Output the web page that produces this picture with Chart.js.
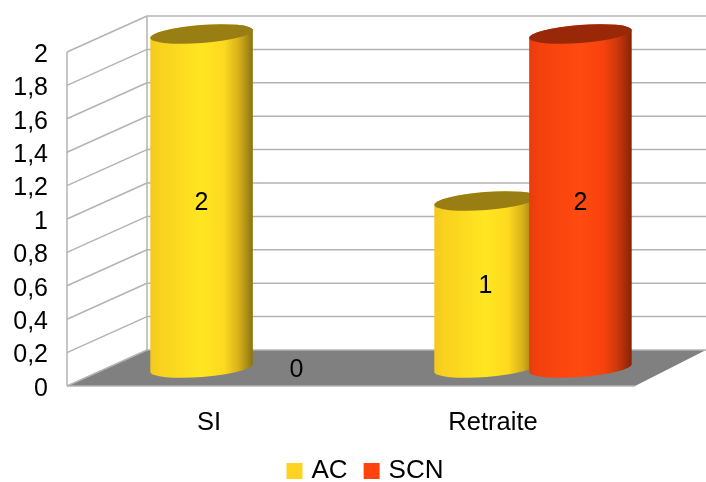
<!DOCTYPE html>
<html>
<head>
<meta charset="utf-8">
<script src="https://cdn.jsdelivr.net/npm/chart.js@4"></script>
<style>
  html, body { margin: 0; padding: 0; background: #fff; }
  #wrap { width: 706px; height: 482px; }
</style>
</head>
<body>
<div id="wrap"><canvas id="chart"></canvas></div>
<script>
const categories = ['SI', 'Retraite'];
const seriesNames = ['AC', 'SCN'];
const acValues = [2, 1];
const scnValues = [0, 2];
const yTicksMax = 2;
const yTickStep = 0.2;

const baseColors = ['#ffd320', '#ff420e'];
const lidColors = ['#997f13', '#992808'];
const shadeStops = [
  ['#f2ca1e', '#f9d11f', '#ffe620', '#fdd91f', '#d8b11a', '#8a7310'],
  ['#e83c0c', '#f4410d', '#ff4a10', '#f8420e', '#cc380b', '#852307']
];
const shadeOffsets = [0, 0.1, 0.5, 0.72, 0.86, 1];

// Depth of the 3D box: the back wall sits this far from the front plane.
const DEPTH_X = 80;
const DEPTH_Y = -36;
const GRID_COLOR = '#b3b3b3';
const FLOOR_COLOR = '#808080';
const LABEL_FONT = '25px "Liberation Sans"';

function line(ctx, x1, y1, x2, y2) {
  ctx.beginPath();
  ctx.moveTo(x1, y1);
  ctx.lineTo(x2, y2);
  ctx.stroke();
}

function drawWalls(chart) {
  const { ctx, chartArea: area, scales: { y } } = chart;
  const backRight = chart.width;
  const y0 = y.getPixelForValue(0);
  ctx.save();
  ctx.fillStyle = FLOOR_COLOR;
  ctx.beginPath();
  ctx.moveTo(area.left, y0);
  ctx.lineTo(area.right, y0);
  ctx.lineTo(backRight, y0 + DEPTH_Y);
  ctx.lineTo(area.left + DEPTH_X, y0 + DEPTH_Y);
  ctx.closePath();
  ctx.fill();
  ctx.strokeStyle = GRID_COLOR;
  ctx.lineWidth = 1.5;
  line(ctx, area.left, y0, area.right, y0);
  line(ctx, area.left, y0, area.left, y.getPixelForValue(yTicksMax));
  line(ctx, area.left + DEPTH_X, y0 + DEPTH_Y,
            area.left + DEPTH_X, y.getPixelForValue(yTicksMax) + DEPTH_Y);
  y.ticks.forEach(t => {
    const py = y.getPixelForValue(t.value);
    line(ctx, area.left, py, area.left + DEPTH_X, py + DEPTH_Y);
    line(ctx, area.left + DEPTH_X, py + DEPTH_Y, backRight, py + DEPTH_Y);
  });
  ctx.restore();
}

function drawCylinder(ctx, bar, series) {
  const rot = -0.0775;
  const cx = bar.x + DEPTH_X / 2;
  const top = bar.y + DEPTH_Y / 2;
  const bottom = bar.base + DEPTH_Y / 2;
  const a = bar.width / 2;
  const b = 9;
  const grad = ctx.createLinearGradient(cx - a, 0, cx + a, 0);
  shadeStops[series].forEach((c, k) => grad.addColorStop(shadeOffsets[k], c));
  const ex = a * Math.cos(rot);
  const ey = a * Math.sin(rot);
  ctx.save();
  ctx.fillStyle = grad;
  ctx.beginPath();
  ctx.moveTo(cx - ex, top - ey);
  ctx.lineTo(cx - ex, bottom - ey);
  ctx.ellipse(cx, bottom, a, b, rot, Math.PI, 0, true);
  ctx.lineTo(cx + ex, top + ey);
  ctx.ellipse(cx, top, a, b, rot, 0, Math.PI, true);
  ctx.closePath();
  ctx.fill();
  ctx.fillStyle = lidColors[series];
  ctx.beginPath();
  ctx.ellipse(cx, top, a, b, rot, 0, Math.PI * 2);
  ctx.fill();
  ctx.restore();
}

const box3d = {
  id: 'box3d',
  // Walls and floor first, then the cylinders in series order so SCN overlaps AC.
  beforeDatasetsDraw(chart) {
    drawWalls(chart);
    chart.data.datasets.forEach((ds, i) => {
      chart.getDatasetMeta(i).data.forEach((bar, n) => {
        if (ds.data[n] !== 0) drawCylinder(chart.ctx, bar, i);
      });
    });
  },
  // The flat bars are replaced by the cylinders above.
  beforeDatasetDraw() {
    return false;
  },
  // Value labels sit on top of every cylinder, halfway up.
  afterDatasetsDraw(chart) {
    const { ctx } = chart;
    ctx.save();
    ctx.font = LABEL_FONT;
    ctx.fillStyle = '#000';
    ctx.textAlign = 'center';
    ctx.textBaseline = 'middle';
    chart.data.datasets.forEach((ds, i) => {
      chart.getDatasetMeta(i).data.forEach((bar, n) => {
        const midY = (bar.y + bar.base) / 2 + DEPTH_Y / 2;
        ctx.fillText(String(ds.data[n]), bar.x + DEPTH_X / 2, midY + 2);
      });
    });
    ctx.restore();
  }
};

new Chart(document.getElementById('chart'), {
  type: 'bar',
  data: {
    labels: categories,
    datasets: [
      { label: seriesNames[0], data: acValues, backgroundColor: baseColors[0] },
      { label: seriesNames[1], data: scnValues, backgroundColor: baseColors[1] }
    ]
  },
  plugins: [box3d],
  options: {
    responsive: true,
    maintainAspectRatio: false,
    animation: false,
    categoryPercentage: 0.668,
    barPercentage: 1.084,
    layout: { padding: { left: 0, top: 52, right: -28, bottom: -12 } },
    scales: {
      x: {
        grid: { display: false },
        border: { display: false },
        ticks: { color: '#000', padding: 14, font: { family: 'Liberation Sans', size: 25.5 }, maxRotation: 0 },
        afterFit(s) { s.height = 52; }
      },
      y: {
        min: 0,
        max: yTicksMax,
        grid: { display: false, drawTicks: false },
        border: { display: false },
        afterFit(s) { s.width = 67; },
        ticks: {
          stepSize: yTickStep,
          color: '#000',
          padding: 19,
          labelOffset: 3,
          font: { family: 'Liberation Sans', size: 25 },
          callback: v => String(Number(v.toFixed(1))).replace('.', ',')
        }
      },
      // Empty axis that reserves the strip taken by the box depth on the right.
      depth: {
        type: 'linear',
        position: 'right',
        grid: { display: false },
        border: { display: false },
        ticks: { display: false },
        afterFit(s) { s.width = 99; }
      }
    },
    plugins: {
      tooltip: { enabled: false },
      legend: {
        position: 'bottom',
        labels: {
          color: '#000',
          font: { family: 'Liberation Sans', size: 26 },
          usePointStyle: true,
          pointStyle: 'rect',
          boxWidth: 8,
          boxHeight: 16,
          padding: 20
        }
      }
    }
  }
});
</script>
</body>
</html>
